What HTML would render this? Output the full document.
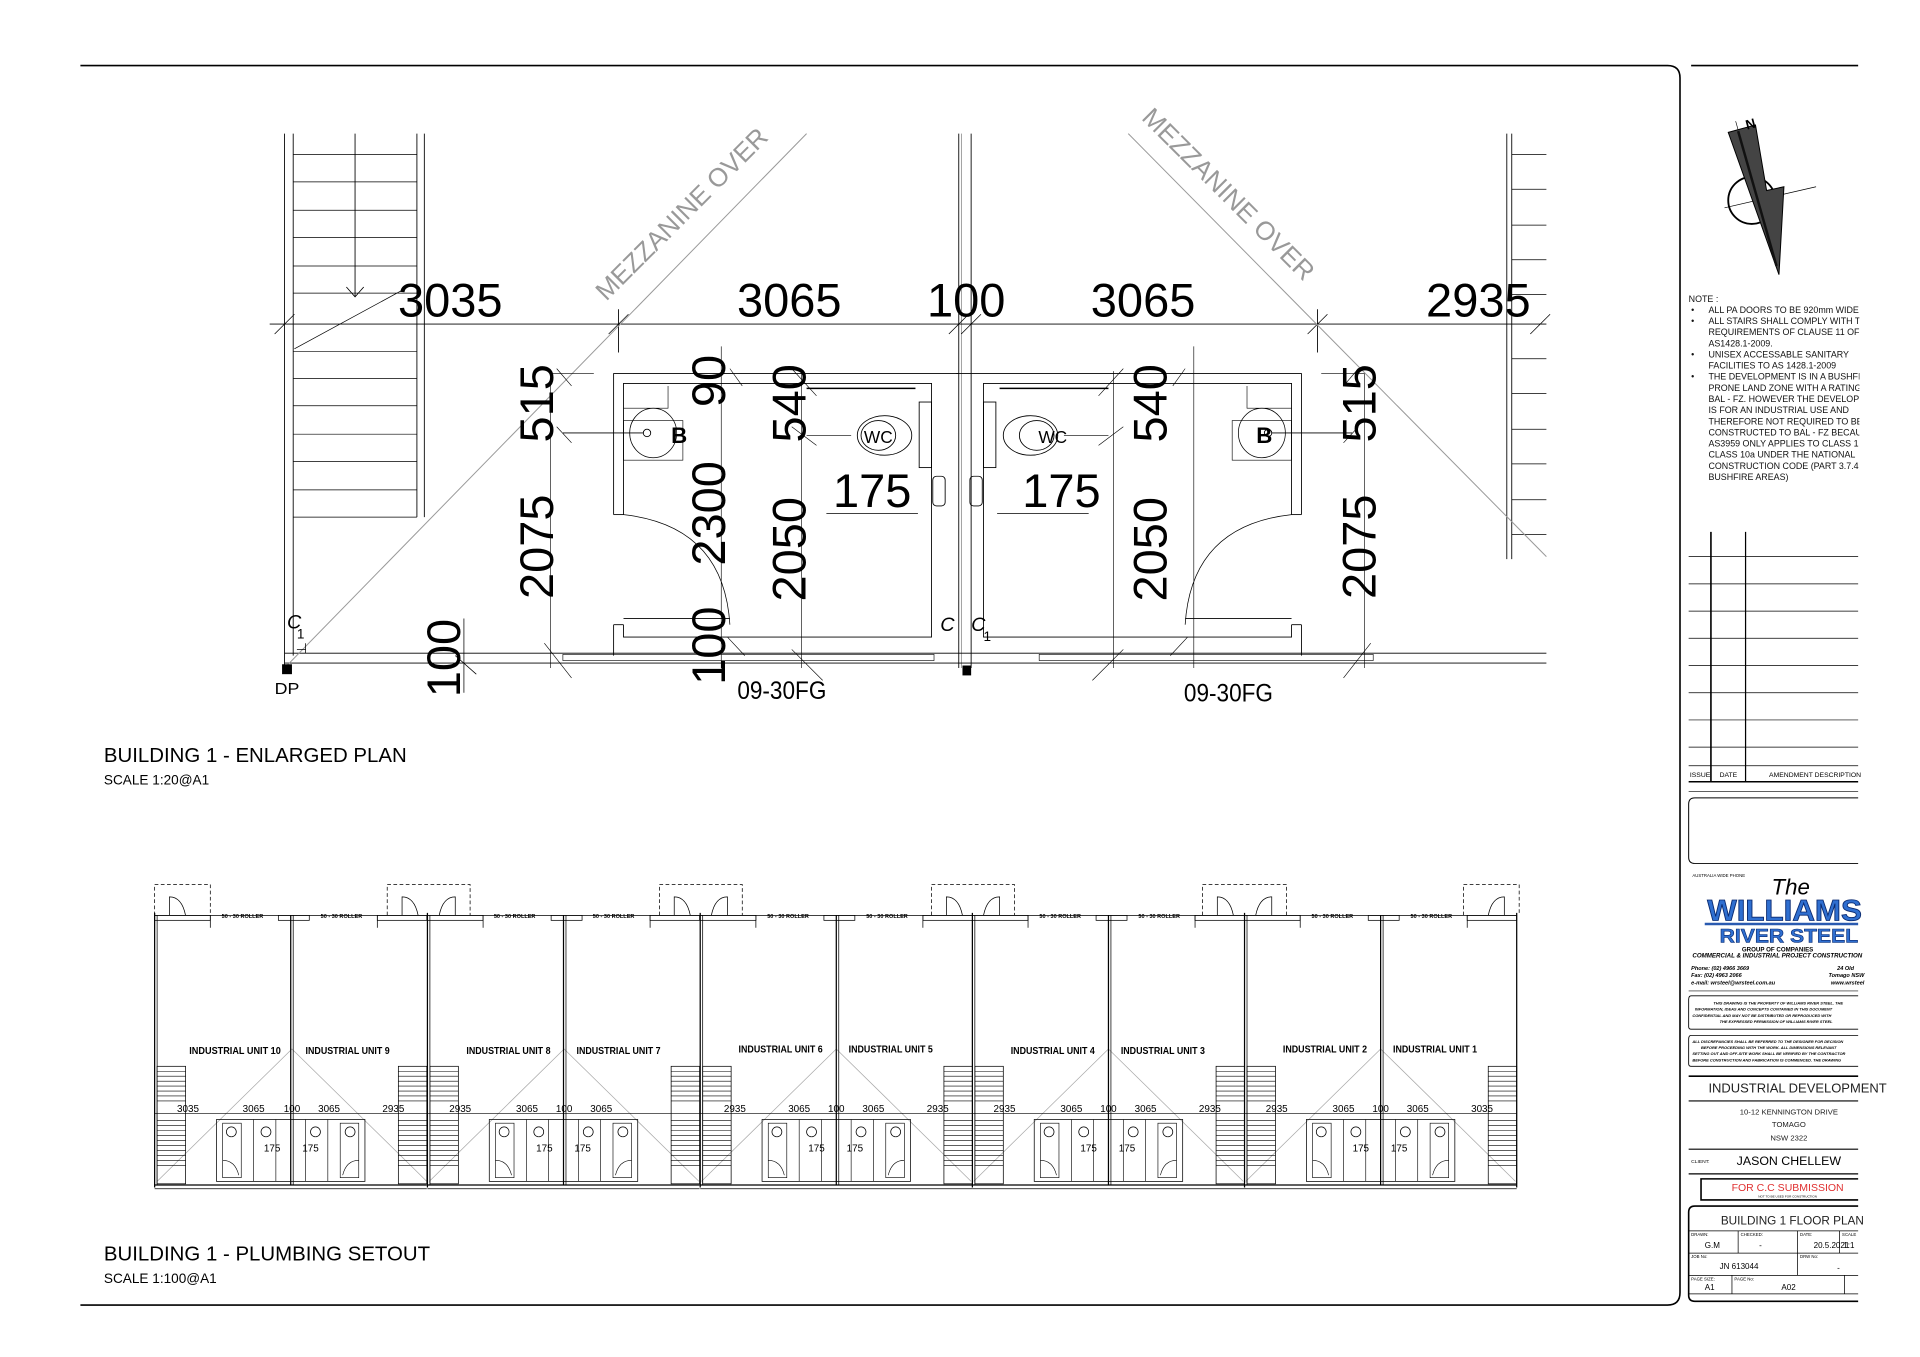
<!DOCTYPE html>
<html><head><meta charset="utf-8"><style>
html,body{margin:0;padding:0;background:#fff;}
svg{display:block;}
text{font-family:"Liberation Sans",sans-serif;}
</style></head><body>
<svg width="1920" height="1357" viewBox="0 0 1552 1097" preserveAspectRatio="none" xmlns="http://www.w3.org/2000/svg">
<rect width="1552" height="1097" fill="#fff"/>
<!-- page border -->
<path d="M65,53 H1348 Q1358,53 1358,63 V1045 Q1358,1055 1348,1055 H65" fill="none" stroke="#000" stroke-width="1.3"/>
<line x1="1367" y1="53" x2="1502" y2="53" stroke="#000" stroke-width="1.3"/>

<!-- ================= ENLARGED PLAN ================= -->
<g stroke="#000" fill="none" stroke-width="0.7">
 <!-- left stair -->
 <line x1="230" y1="108" x2="230" y2="540"/><line x1="237" y1="108" x2="237" y2="530"/>
 <line x1="337" y1="108" x2="337" y2="418"/><line x1="343" y1="108" x2="343" y2="418"/>
 <line x1="287" y1="108" x2="287" y2="240"/>
 <path d="M280,232 L287,240 L294,232"/>
 <g stroke-width="0.6">
 <line x1="237" y1="125" x2="337" y2="125"/><line x1="237" y1="147" x2="337" y2="147"/>
 <line x1="237" y1="170" x2="337" y2="170"/><line x1="237" y1="192" x2="337" y2="192"/>
 <line x1="237" y1="215" x2="337" y2="215"/><line x1="237" y1="237" x2="337" y2="237"/>
 <line x1="237" y1="284" x2="337" y2="284"/><line x1="237" y1="306" x2="337" y2="306"/>
 <line x1="237" y1="328" x2="337" y2="328"/><line x1="237" y1="351" x2="337" y2="351"/>
 <line x1="237" y1="373" x2="337" y2="373"/><line x1="237" y1="396" x2="337" y2="396"/>
 <line x1="237" y1="418" x2="337" y2="418"/>
 <line x1="238" y1="282" x2="330" y2="232"/>
 </g>
 <!-- right stair -->
 <line x1="1218" y1="108" x2="1218" y2="452"/><line x1="1222" y1="108" x2="1222" y2="452"/>
 <g stroke-width="0.6">
 <line x1="1222" y1="125" x2="1250" y2="125"/><line x1="1222" y1="153" x2="1250" y2="153"/>
 <line x1="1222" y1="182" x2="1250" y2="182"/><line x1="1222" y1="210" x2="1250" y2="210"/>
 <line x1="1222" y1="238" x2="1250" y2="238"/><line x1="1222" y1="290" x2="1250" y2="290"/>
 <line x1="1222" y1="318" x2="1250" y2="318"/><line x1="1222" y1="347" x2="1250" y2="347"/>
 <line x1="1222" y1="375" x2="1250" y2="375"/><line x1="1222" y1="404" x2="1250" y2="404"/>
 <line x1="1222" y1="432" x2="1250" y2="432"/>
 </g>
 <!-- party wall -->
 <line x1="775" y1="108" x2="775" y2="540"/><line x1="785" y1="108" x2="785" y2="540"/>
 <line x1="777" y1="108" x2="777" y2="540" stroke-width="0.3"/>
 <!-- bottom wall -->
 <line x1="230" y1="528" x2="1250" y2="528"/><line x1="230" y1="536" x2="1250" y2="536"/>
 <rect x="455" y="529" width="300" height="5" stroke-width="0.5"/>
 <rect x="840" y="529" width="270" height="5" stroke-width="0.5"/>
 <!-- top dim line -->
 <line x1="218" y1="262" x2="1250" y2="262"/>
 <line x1="500" y1="250" x2="500" y2="285"/><line x1="1065" y1="250" x2="1065" y2="285"/>
 <g stroke-width="0.6">
 <line x1="222" y1="270" x2="238" y2="254"/><line x1="492" y1="270" x2="508" y2="254"/>
 <line x1="767" y1="270" x2="783" y2="254"/><line x1="777" y1="270" x2="793" y2="254"/>
 <line x1="1057" y1="270" x2="1073" y2="254"/><line x1="1237" y1="270" x2="1253" y2="254"/>
 </g>
</g>
<!-- mezzanine diagonals -->
<g stroke="#999" stroke-width="0.8">
 <line x1="230" y1="540" x2="652" y2="108"/>
 <line x1="912" y1="108" x2="1250" y2="450"/>
</g>
<text transform="translate(556,178) rotate(-45)" text-anchor="middle" font-size="21" fill="#999">MEZZANINE OVER</text>
<text transform="translate(988,162) rotate(45)" text-anchor="middle" font-size="21" fill="#999">MEZZANINE OVER</text>

<!-- left bathroom group & mirror -->
<g id="bath" stroke="#000" fill="none" stroke-width="0.7">
 <line x1="445" y1="302" x2="445" y2="540" stroke-width="0.5"/>
 <line x1="445" y1="302" x2="480" y2="302" stroke-width="0.5"/>
 <path d="M496,416 V302 H775"/>
 <path d="M504,416 V310 H753 V515 H504 V505"/>
 <path d="M496,416 H504"/>
 <path d="M496,505 V530 M496,505 H504"/>
 <path d="M504,500 H590"/>
 <line x1="583" y1="280" x2="583" y2="540" stroke-width="0.5"/>
 <line x1="648" y1="300" x2="648" y2="540" stroke-width="0.5"/>
 <path d="M504,416 Q585,425 590,505" stroke-width="0.6"/>
 <!-- basin -->
 <path d="M504,330 H540 V312" stroke-width="0.5"/>
 <rect x="504" y="340" width="48" height="32" stroke-width="0.5"/>
 <ellipse cx="528" cy="350" rx="19" ry="20" stroke-width="0.6"/>
 <line x1="455" y1="350" x2="520" y2="350"/>
 <circle cx="523" cy="350" r="3"/>
 <!-- wc -->
 <ellipse cx="715" cy="352" rx="22" ry="16"/>
 <ellipse cx="710" cy="352" rx="14" ry="12"/>
 <rect x="743" y="325" width="10" height="53"/>
 <line x1="652" y1="314" x2="740" y2="314" stroke-width="1.2"/>
 <rect x="754" y="385" width="10" height="24" rx="3"/>
 <line x1="668" y1="415" x2="742" y2="415" stroke-width="0.6"/>
 <line x1="652" y1="352" x2="688" y2="352" stroke-width="0.5"/>
 <g stroke-width="0.5">
 <line x1="450" y1="298" x2="462" y2="312"/><line x1="450" y1="345" x2="462" y2="358"/>
 <line x1="440" y1="520" x2="462" y2="548"/><line x1="590" y1="298" x2="600" y2="312"/>
 <line x1="640" y1="298" x2="660" y2="320"/><line x1="640" y1="345" x2="660" y2="360"/>
 <line x1="640" y1="525" x2="665" y2="550"/><line x1="588" y1="515" x2="602" y2="530"/>
 </g>
</g>
<use href="#bath" transform="translate(1548,0) scale(-1,1)"/>
<g stroke="#000" fill="none" stroke-width="0.6">
 <line x1="375" y1="500" x2="375" y2="560"/><line x1="368" y1="530" x2="385" y2="545"/>
 <line x1="240" y1="525" x2="247" y2="525"/><line x1="247" y1="520" x2="247" y2="528"/>
</g>
<rect x="228" y="537" width="8" height="8" fill="#000"/>
<rect x="778" y="538" width="7" height="8" fill="#000"/>
<text x="232" y="508" font-size="16" font-style="italic">C</text><text x="240" y="516" font-size="11">1</text>
<text x="760" y="510" font-size="16" font-style="italic">C</text><text x="785" y="510" font-size="16" font-style="italic">C</text><text x="795" y="518" font-size="11">1</text>
<text x="222" y="561" font-size="13" textLength="20" lengthAdjust="spacingAndGlyphs">DP</text>

<!-- B / WC labels -->
<g font-size="18" text-anchor="middle">
 <text x="549" y="358" font-weight="bold">B</text>
 <text x="1022" y="358" font-weight="bold">B</text>
 <text x="710" y="358" font-size="14">WC</text>
 <text x="851" y="358" font-size="14">WC</text>
</g>
<!-- big dims -->
<g font-size="38" text-anchor="middle">
 <text x="364" y="256">3035</text>
 <text x="638" y="256">3065</text>
 <text x="781" y="256">100</text>
 <text x="924" y="256">3065</text>
 <text x="1195" y="256">2935</text>
 <text x="705" y="410">175</text>
 <text x="858" y="410">175</text>
 <text transform="translate(447,326) rotate(-90)">515</text>
 <text transform="translate(447,442) rotate(-90)">2075</text>
 <text transform="translate(586,308) rotate(-90)">90</text>
 <text transform="translate(586,415) rotate(-90)">2300</text>
 <text transform="translate(586,522) rotate(-90)">100</text>
 <text transform="translate(651,326) rotate(-90)">540</text>
 <text transform="translate(651,444) rotate(-90)">2050</text>
 <text transform="translate(943,326) rotate(-90)">540</text>
 <text transform="translate(943,444) rotate(-90)">2050</text>
 <text transform="translate(1112,326) rotate(-90)">515</text>
 <text transform="translate(1112,442) rotate(-90)">2075</text>
 <text transform="translate(372,532) rotate(-90)">100</text>
</g>
<text x="632" y="565" font-size="20" text-anchor="middle" textLength="72" lengthAdjust="spacingAndGlyphs">09-30FG</text>
<text x="993" y="567" font-size="20" text-anchor="middle" textLength="72" lengthAdjust="spacingAndGlyphs">09-30FG</text>

<text x="84" y="616" font-size="16.5">BUILDING 1 - ENLARGED PLAN</text>
<text x="84" y="634" font-size="11">SCALE 1:20@A1</text>

<!-- ================= PLUMBING SETOUT ================= -->
<defs>
<g id="pair" stroke="#000" fill="none" stroke-width="0.6">
 <line x1="0" y1="738" x2="0" y2="960" stroke-width="1"/><line x1="2" y1="740" x2="2" y2="958"/>
 <line x1="110" y1="740" x2="110" y2="958" stroke-width="1"/><line x1="112" y1="740" x2="112" y2="958"/>
 <line x1="0" y1="740" x2="220" y2="740"/>
 <rect x="0" y="740" width="45" height="4"/><rect x="100" y="740" width="25" height="4"/><rect x="180" y="740" width="40" height="4"/>
 <line x1="45" y1="740" x2="45" y2="750"/><line x1="180" y1="740" x2="180" y2="750"/>
 <line x1="0" y1="958" x2="220" y2="958" stroke-width="1"/><line x1="0" y1="961" x2="220" y2="961"/>
 <!-- stairs -->
 <rect x="2" y="862" width="23" height="95"/>
 <path d="M2,866H25M2,870H25M2,874H25M2,878H25M2,882H25M2,886H25M2,890H25M2,906H25M2,910H25M2,914H25M2,918H25M2,922H25M2,926H25M2,930H25M2,934H25M2,938H25M2,942H25" stroke-width="0.5"/>
 <rect x="197" y="862" width="23" height="95"/>
 <path d="M197,866H220M197,870H220M197,874H220M197,878H220M197,882H220M197,886H220M197,890H220M197,906H220M197,910H220M197,914H220M197,918H220M197,922H220M197,926H220M197,930H220M197,934H220M197,938H220M197,942H220" stroke-width="0.5"/>
 <!-- dim line -->
 <line x1="0" y1="900" x2="220" y2="900"/>
 <!-- bathrooms -->
 <path d="M50,905 H170 V955 H50 Z"/>
 <path d="M55,908 H70 V952 H55 Z M80,905 V955 M98,905 V955 M122,905 V955 M140,905 V955 M150,908 H165 V952 H150 Z" stroke-width="0.5"/>
 <circle cx="62" cy="915" r="4"/><circle cx="90" cy="915" r="4"/><circle cx="130" cy="915" r="4"/><circle cx="158" cy="915" r="4"/>
 <path d="M55,938 Q65,938 68,950 M165,938 Q155,938 152,950" stroke-width="0.5"/>
</g>
</defs>
<g stroke="#aaa" stroke-width="0.6" fill="none">
 <path d="M127,955 L236,848 L345,955 M347,955 L456,848 L565,955 M567,955 L676,848 L785,955 M787,955 L896,848 L1005,955 M1007,955 L1116,848 L1225,955"/>
</g>
<use href="#pair" transform="translate(125,0)"/>
<use href="#pair" transform="translate(345.5,0)"/>
<use href="#pair" transform="translate(566,0)"/>
<use href="#pair" transform="translate(786,0)"/>
<use href="#pair" transform="translate(1006,0)"/>
<line x1="1226" y1="738" x2="1226" y2="960" stroke="#000" stroke-width="1"/>
<!-- dashed door boxes -->
<g stroke="#000" stroke-width="0.6" fill="none" stroke-dasharray="3,2">
 <path d="M125,740 V715 H170 V740"/>
 <path d="M313,740 V715 H380 V740"/>
 <path d="M533,740 V715 H600 V740"/>
 <path d="M753,740 V715 H820 V740"/>
 <path d="M972,740 V715 H1040 V740"/>
 <path d="M1183,740 V715 H1228 V740"/>
</g>
<g stroke="#000" stroke-width="0.6" fill="none">
 <path d="M137,740 V725 Q147,725 150,740"/>
 <path d="M325,740 V725 Q335,725 338,740 M368,740 V725 Q358,725 355,740"/>
 <path d="M545,740 V725 Q555,725 558,740 M588,740 V725 Q578,725 575,740"/>
 <path d="M765,740 V725 Q775,725 778,740 M808,740 V725 Q798,725 795,740"/>
 <path d="M984,740 V725 Q994,725 997,740 M1028,740 V725 Q1018,725 1015,740"/>
 <path d="M1216,740 V725 Q1206,725 1203,740"/>
</g>
<g font-size="4.5" font-weight="bold" text-anchor="middle">
 <text x="196" y="742">50 - 30 ROLLER</text><text x="276" y="742">50 - 30 ROLLER</text>
 <text x="416" y="742">50 - 30 ROLLER</text><text x="496" y="742">50 - 30 ROLLER</text>
 <text x="637" y="742">50 - 30 ROLLER</text><text x="717" y="742">50 - 30 ROLLER</text>
 <text x="857" y="742">50 - 30 ROLLER</text><text x="937" y="742">50 - 30 ROLLER</text>
 <text x="1077" y="742">50 - 30 ROLLER</text><text x="1157" y="742">50 - 30 ROLLER</text>
</g>
<g font-size="8.5" font-weight="bold" text-anchor="middle">
 <text x="190" y="852" textLength="74" lengthAdjust="spacingAndGlyphs">INDUSTRIAL UNIT 10</text>
 <text x="281" y="852" textLength="68" lengthAdjust="spacingAndGlyphs">INDUSTRIAL UNIT 9</text>
 <text x="411" y="852" textLength="68" lengthAdjust="spacingAndGlyphs">INDUSTRIAL UNIT 8</text>
 <text x="500" y="852" textLength="68" lengthAdjust="spacingAndGlyphs">INDUSTRIAL UNIT 7</text>
 <text x="631" y="851" textLength="68" lengthAdjust="spacingAndGlyphs">INDUSTRIAL UNIT 6</text>
 <text x="720" y="851" textLength="68" lengthAdjust="spacingAndGlyphs">INDUSTRIAL UNIT 5</text>
 <text x="851" y="852" textLength="68" lengthAdjust="spacingAndGlyphs">INDUSTRIAL UNIT 4</text>
 <text x="940" y="852" textLength="68" lengthAdjust="spacingAndGlyphs">INDUSTRIAL UNIT 3</text>
 <text x="1071" y="851" textLength="68" lengthAdjust="spacingAndGlyphs">INDUSTRIAL UNIT 2</text>
 <text x="1160" y="851" textLength="68" lengthAdjust="spacingAndGlyphs">INDUSTRIAL UNIT 1</text>
</g>
<g font-size="8" text-anchor="middle">
 <text x="152" y="899">3035</text><text x="205" y="899">3065</text><text x="236" y="899">100</text><text x="266" y="899">3065</text><text x="318" y="899">2935</text>
 <text x="372" y="899">2935</text><text x="426" y="899">3065</text><text x="456" y="899">100</text><text x="486" y="899">3065</text>
 <text x="594" y="899">2935</text><text x="646" y="899">3065</text><text x="676" y="899">100</text><text x="706" y="899">3065</text><text x="758" y="899">2935</text>
 <text x="812" y="899">2935</text><text x="866" y="899">3065</text><text x="896" y="899">100</text><text x="926" y="899">3065</text><text x="978" y="899">2935</text>
 <text x="1032" y="899">2935</text><text x="1086" y="899">3065</text><text x="1116" y="899">100</text><text x="1146" y="899">3065</text><text x="1198" y="899">3035</text>
 <text x="220" y="931">175</text><text x="251" y="931">175</text>
 <text x="440" y="931">175</text><text x="471" y="931">175</text>
 <text x="660" y="931">175</text><text x="691" y="931">175</text>
 <text x="880" y="931">175</text><text x="911" y="931">175</text>
 <text x="1100" y="931">175</text><text x="1131" y="931">175</text>
</g>
<text x="84" y="1019" font-size="16.5">BUILDING 1 - PLUMBING SETOUT</text>
<text x="84" y="1037" font-size="11">SCALE 1:100@A1</text>

<!-- ================= TITLE BLOCK ================= -->
<!-- north arrow -->
<circle cx="1416" cy="162" r="19" fill="none" stroke="#000" stroke-width="1.5"/>
<line x1="1394" y1="168" x2="1468" y2="151" stroke="#000" stroke-width="0.6"/>
<line x1="1403" y1="98" x2="1438" y2="222" stroke="#000" stroke-width="0.5"/>
<polygon points="1397,107 1419,101 1428,154 1442,151 1438,222" fill="#444" stroke="#000" stroke-width="0.8"/>
<line x1="1405" y1="106" x2="1436" y2="215" stroke="#111" stroke-width="2"/>
<text x="1411" y="104" font-size="11" font-weight="bold" transform="rotate(-15 1415 100)">N</text>

<g font-size="7.2" fill="#111">
 <text x="1365" y="244">NOTE :</text>
 <text x="1367" y="253">•</text><text x="1381" y="253">ALL PA DOORS TO BE 920mm WIDE</text>
 <text x="1367" y="262">•</text><text x="1381" y="262">ALL STAIRS SHALL COMPLY WITH THE</text>
 <text x="1381" y="271">REQUIREMENTS OF CLAUSE 11 OF</text>
 <text x="1381" y="280">AS1428.1-2009.</text>
 <text x="1367" y="289">•</text><text x="1381" y="289">UNISEX ACCESSABLE SANITARY</text>
 <text x="1381" y="298">FACILITIES TO AS 1428.1-2009</text>
 <text x="1367" y="307">•</text><text x="1381" y="307">THE DEVELOPMENT IS IN A BUSHFIRE</text>
 <text x="1381" y="316">PRONE LAND ZONE WITH A RATING</text>
 <text x="1381" y="325">BAL - FZ. HOWEVER THE DEVELOPMENT</text>
 <text x="1381" y="334">IS FOR AN INDUSTRIAL USE AND</text>
 <text x="1381" y="343">THEREFORE NOT REQUIRED TO BE</text>
 <text x="1381" y="352">CONSTRUCTED TO BAL - FZ BECAUSE</text>
 <text x="1381" y="361">AS3959 ONLY APPLIES TO CLASS 1</text>
 <text x="1381" y="370">CLASS 10a UNDER THE NATIONAL</text>
 <text x="1381" y="379">CONSTRUCTION CODE (PART 3.7.4</text>
 <text x="1381" y="388">BUSHFIRE AREAS)</text>
</g>
<rect x="1503" y="230" width="49" height="200" fill="#fff"/>
<g stroke="#000" stroke-width="0.6">
 <line x1="1383" y1="430" x2="1383" y2="632" stroke-width="1.3"/>
 <line x1="1411" y1="430" x2="1411" y2="632" stroke-width="1"/>
 <line x1="1365" y1="450" x2="1502" y2="450"/><line x1="1365" y1="472" x2="1502" y2="472"/>
 <line x1="1365" y1="494" x2="1502" y2="494"/><line x1="1365" y1="516" x2="1502" y2="516"/>
 <line x1="1365" y1="538" x2="1502" y2="538"/><line x1="1365" y1="560" x2="1502" y2="560"/>
 <line x1="1365" y1="582" x2="1502" y2="582"/><line x1="1365" y1="604" x2="1502" y2="604"/>
 <line x1="1365" y1="619" x2="1502" y2="619"/>
 <line x1="1365" y1="632" x2="1502" y2="632" stroke-width="1.2"/>
 <line x1="1365" y1="640" x2="1502" y2="640"/>
</g>
<g font-size="5.5"><text x="1366" y="628">ISSUE</text><text x="1390" y="628">DATE</text><text x="1430" y="628">AMENDMENT DESCRIPTION</text></g>
<path d="M1502,645 H1370 Q1365,645 1365,650 V693 Q1365,698 1370,698 H1502" fill="none" stroke="#000" stroke-width="0.8"/>
<text x="1368" y="709" font-size="3.5">AUSTRALIA WIDE PHONE</text>
<text x="1432" y="723" font-size="18" font-style="italic" font-family="Liberation Serif">The</text>
<text x="1380" y="744" font-size="24" font-weight="bold" fill="#2f6fd0" stroke="#0a2a70" stroke-width="0.7" textLength="125" lengthAdjust="spacingAndGlyphs">WILLIAMS</text>
<line x1="1378" y1="747" x2="1502" y2="747" stroke="#2a5ab0" stroke-width="2"/>
<text x="1390" y="762" font-size="16" font-weight="bold" fill="#2f6fd0" stroke="#0a2a70" stroke-width="0.5" textLength="112" lengthAdjust="spacingAndGlyphs">RIVER STEEL</text>
<text x="1408" y="769" font-size="5" font-weight="bold">GROUP OF COMPANIES</text>
<text x="1368" y="774" font-size="5" font-weight="bold" font-style="italic">COMMERCIAL &amp; INDUSTRIAL PROJECT CONSTRUCTION</text>
<g font-size="4.5" font-weight="bold" font-style="italic"><text x="1367" y="784">Phone: (02) 4966 3669</text><text x="1367" y="790">Fax: (02) 4963 2066</text><text x="1367" y="796">e-mail: wrsteel@wrsteel.com.au</text>
<text x="1485" y="784">24 Old</text><text x="1478" y="790">Tomago NSW</text><text x="1480" y="796">www.wrsteel</text></g>
<line x1="1365" y1="801" x2="1502" y2="801" stroke="#888" stroke-width="1"/>
<path d="M1502,805 H1367 Q1365,805 1365,808 V830 Q1365,832 1367,832 H1502" fill="none" stroke="#000" stroke-width="0.7"/>
<g font-size="3.2" font-weight="bold" font-style="italic"><text x="1385" y="812">THIS DRAWING IS THE PROPERTY OF WILLIAMS RIVER STEEL. THE</text><text x="1370" y="817">INFORMATION, IDEAS AND CONCEPTS CONTAINED IN THIS DOCUMENT</text><text x="1368" y="822">CONFIDENTIAL AND MAY NOT BE DISTRIBUTED OR REPRODUCED WITH</text><text x="1390" y="827">THE EXPRESSED PERMISSION OF WILLIAMS RIVER STEEL</text></g>
<path d="M1502,837 H1367 Q1365,837 1365,840 V860 Q1365,862 1367,862 H1502" fill="none" stroke="#000" stroke-width="0.7"/>
<g font-size="3.2" font-weight="bold" font-style="italic"><text x="1368" y="843">ALL DISCREPANCIES SHALL BE REFERRED TO THE DESIGNER FOR DECISION</text><text x="1375" y="848">BEFORE PROCEEDING WITH THE WORK. ALL DIMENSIONS RELEVANT</text><text x="1368" y="853">SETTING OUT AND OFF-SITE WORK SHALL BE VERIFIED BY THE CONTRACTOR</text><text x="1368" y="858">BEFORE CONSTRUCTION AND FABRICATION IS COMMENCED. THE DRAWING</text></g>
<line x1="1365" y1="870" x2="1502" y2="870" stroke="#000" stroke-width="1.3"/>
<text x="1381" y="883" font-size="10.5" fill="#222">INDUSTRIAL DEVELOPMENT</text>
<line x1="1365" y1="890" x2="1502" y2="890" stroke="#000" stroke-width="1"/>
<g font-size="6.2" text-anchor="middle" fill="#222"><text x="1446" y="901">10-12 KENNINGTON DRIVE</text><text x="1446" y="911">TOMAGO</text><text x="1446" y="922">NSW 2322</text></g>
<line x1="1365" y1="929" x2="1502" y2="929" stroke="#000" stroke-width="1"/>
<text x="1367" y="940" font-size="4">CLIENT:</text>
<text x="1446" y="942" font-size="10" text-anchor="middle">JASON CHELLEW</text>
<line x1="1365" y1="949" x2="1502" y2="949" stroke="#000" stroke-width="1"/>
<path d="M1502,953 H1375 V970 H1502" fill="none" stroke="#000" stroke-width="1.3"/>
<text x="1445" y="963" font-size="8.5" fill="#e03030" text-anchor="middle">FOR C.C SUBMISSION</text>
<text x="1445" y="968" font-size="2.5" text-anchor="middle">NOT TO BE USED FOR CONSTRUCTION</text>
<path d="M1502,975 H1370 Q1365,975 1365,980 V1047 Q1365,1052 1370,1052 H1502" fill="none" stroke="#000" stroke-width="1.3"/>
<text x="1391" y="990" font-size="9.5" fill="#222">BUILDING 1 FLOOR PLAN</text>
<g stroke="#000" stroke-width="0.6">
 <line x1="1365" y1="995" x2="1502" y2="995"/><line x1="1365" y1="1013" x2="1502" y2="1013"/><line x1="1365" y1="1031" x2="1502" y2="1031"/><line x1="1365" y1="1046" x2="1502" y2="1046"/>
 <line x1="1405" y1="995" x2="1405" y2="1013"/><line x1="1453" y1="995" x2="1453" y2="1031"/><line x1="1487" y1="995" x2="1487" y2="1013"/>
 <line x1="1400" y1="1031" x2="1400" y2="1046"/><line x1="1491" y1="1031" x2="1491" y2="1046"/>
</g>
<g font-size="3.5"><text x="1367" y="999">DRAWN:</text><text x="1407" y="999">CHECKED:</text><text x="1455" y="999">DATE:</text><text x="1489" y="999">SCALE</text><text x="1367" y="1017">JOB No:</text><text x="1455" y="1017">DRW No:</text><text x="1367" y="1035">PAGE SIZE:</text><text x="1402" y="1035">PAGE No:</text></g>
<g font-size="6.5"><text x="1378" y="1009">G.M</text><text x="1422" y="1009">-</text><text x="1466" y="1009">20.5.2021</text><text x="1490" y="1009">1:1</text><text x="1390" y="1026">JN 613044</text><text x="1485" y="1027">-</text><text x="1378" y="1043">A1</text><text x="1440" y="1043">A02</text></g>
</svg>
</body></html>
